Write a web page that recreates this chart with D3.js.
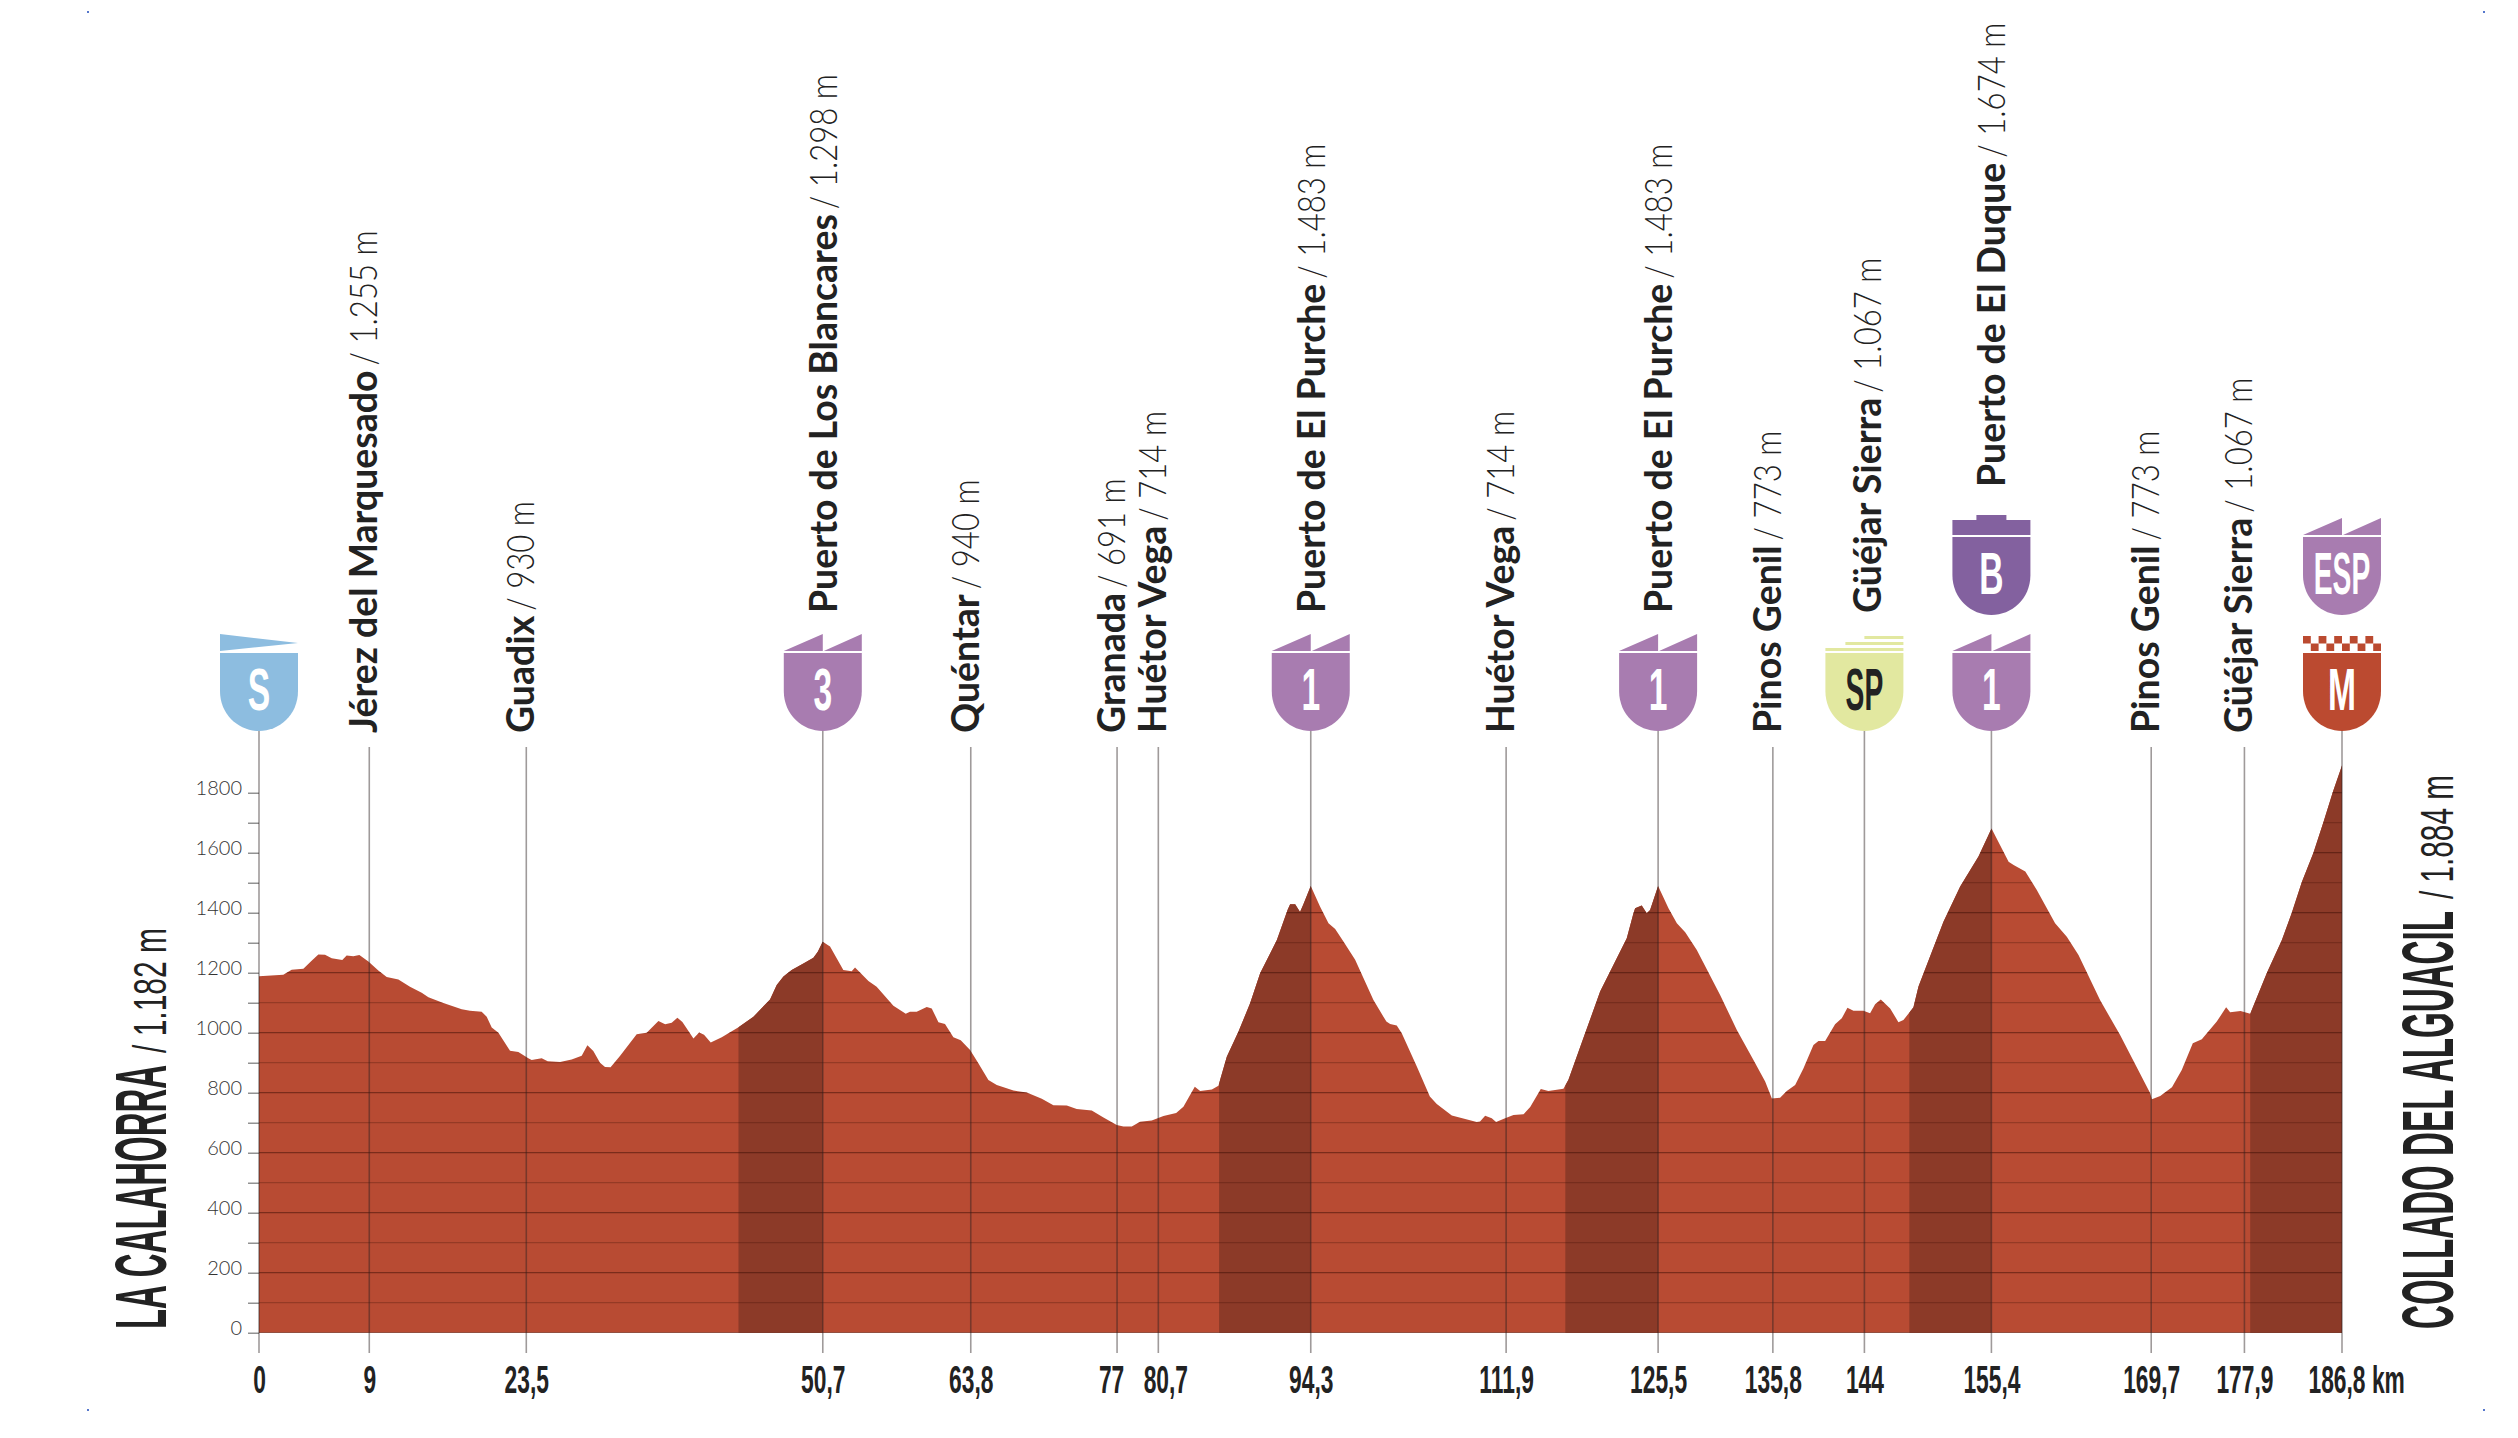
<!DOCTYPE html>
<html>
<head>
<meta charset="utf-8">
<script src="https://cdn.jsdelivr.net/npm/d3@7/dist/d3.min.js"></script>
<style>
  body { margin: 0; background: #fff; }
  svg { display: block; }
  .narrow { font-family: "Liberation Sans Narrow", "Liberation Sans", sans-serif; font-weight: 700; }
  .place { font-family: Lato, sans-serif; font-size: 38px; fill: #222; }
</style>
</head>
<body>
<svg id="profile" width="2518" height="1438"></svg>
<script>
// profile: km along the stage and altitude in metres
const profileKm = [0, 2.18, 2.93, 3.98, 4.72, 5.32, 5.92, 6.52, 7.47, 7.86, 8.46, 9, 9.81, 10.7, 11.45, 12.5, 13.54, 14.59, 15.19, 16.53, 18.18, 18.92, 19.97, 20.42, 20.87, 21.47, 22.51, 23.26, 24.15, 24.45, 25.35, 25.89, 27, 28.04, 28.94, 29.45, 29.98, 30.58, 31.03, 31.53, 32.37, 33.87, 34.77, 35.82, 36.42, 37.01, 37.52, 37.97, 38.96, 39.47, 39.91, 40.51, 41.5, 43, 44.34, 45.83,
  46.43, 47.03, 47.77, 48.82, 49.72, 50.11, 50.55, 51.21, 52.4, 53.15, 53.45, 53.9, 54.65, 55.39, 56.89, 58, 58.38, 58.98, 59.88, 60.33, 60.93, 61.52, 62.27, 62.93, 63.77, 64.51, 65.41, 66.16, 67.66, 68.85, 70.2, 71.24, 72.44, 73.33, 74.68, 75.73, 76.92, 77.52, 78.27, 79.01, 80.06, 81.11, 82.25, 82.9, 83.92, 84.4,
  85.45, 86.04, 86.79, 87.84, 88.88, 89.78, 91.28, 92.24, 92.47, 92.92, 93.36, 93.66, 94.32, 95.16, 95.91, 96.51, 97.25, 98.3, 99.94, 101.1, 101.44, 102.03, 102.48, 103.83, 105, 105.62, 106.97, 109.2, 109.5, 109.96, 110.55, 110.94, 111.75, 112.5, 113.4, 114, 114.95, 115.63, 116.98, 117.43, 118.77, 120.27, 121.46, 122.66, 123.26, 123.41, 124, 124.45, 124.75, 125.47, 126.4, 127.15, 127.9, 128.94, 131.03,
  132.53, 134.02, 135.07, 135.67, 136.41, 137.01, 137.76, 138.5, 139.4, 139.85, 140.45, 141.34, 141.94, 142.45, 142.99, 143.88, 144.48, 144.93, 145.44, 146.28, 147.02, 147.47, 148.37, 148.82, 150.02, 151.06, 152.56, 154.2, 155.37, 156.9, 157.35, 158.4, 159.43, 161.07, 162.12, 163.17, 165.1, 166.9, 169.6, 169.75, 170.5, 171.55, 172.43, 173.42, 174.23, 175.57, 176.41, 176.77, 177.7,
  178.57, 179, 180.06, 181.4, 182.3, 183.2, 184.24, 185.14, 185.98, 186.8];
const profileElev = [1188, 1193, 1210, 1213, 1240, 1261, 1260, 1248, 1242, 1257, 1255, 1259, 1237, 1207, 1186, 1177, 1153, 1133, 1118, 1099, 1078, 1073, 1070, 1053, 1017, 1000, 940, 936, 915, 909, 915, 905, 902, 911, 923, 958, 939, 900, 886, 885, 922, 995, 1000, 1039, 1028, 1033, 1050, 1036, 981, 1001, 993, 967, 985, 1018, 1053, 1111,
  1159, 1187, 1209, 1231, 1250, 1270, 1303, 1287, 1209, 1205, 1217, 1201, 1172, 1153, 1090, 1063, 1070, 1070, 1086, 1081, 1035, 1029, 985, 975, 942, 898, 842, 826, 807, 801, 780, 758, 757, 746, 741, 717, 692, 687, 687, 703, 707, 722, 732, 753, 820, 806,
  811, 823, 920, 1004, 1098, 1198, 1309, 1409, 1428, 1428, 1402, 1428, 1489, 1420, 1365, 1346, 1304, 1243, 1109, 1037, 1029, 1024, 998, 887, 787, 762, 724, 702, 704, 723, 715, 702, 715, 726, 728, 752, 812, 806, 813, 843, 982, 1137, 1226, 1315, 1398, 1415, 1424, 1398, 1409, 1489, 1415, 1365, 1335, 1276, 1126,
  1009, 909, 837, 781, 783, 806, 826, 881, 959, 972, 972, 1028, 1048, 1083, 1073, 1073, 1065, 1095, 1111, 1081, 1035, 1042, 1085, 1154, 1270, 1370, 1487, 1587, 1681, 1570, 1559, 1537, 1476, 1365, 1320, 1259, 1109, 992, 798, 778, 789, 818, 876, 965, 978, 1037, 1085, 1068, 1072,
  1063, 1102, 1199, 1308, 1400, 1502, 1600, 1702, 1802, 1891];

// categorised climbs, shaded darker
const climbStart = [43, 86.1, 117.15, 148, 178.57];
const climbEnd = [50.55, 94.32, 125.47, 155.36, 186.8];

// the marks on the route
const markKm = [0, 9.89, 23.97, 50.56, 63.83, 76.95, 80.65, 94.32, 111.84, 125.47, 135.76, 143.97, 155.36, 169.69, 178.05, 186.8];
const kmLabels = ["0", "9", "23,5", "50,7", "63,8", "77", "80,7", "94,3", "111,9", "125,5", "135,8", "144", "155,4", "169,7", "177,9", "186,8 km"];
const placeNames = ["", "Jérez del Marquesado", "Guadix", "Puerto de Los Blancares", "Quéntar", "Granada", "Huétor Vega", "Puerto de El Purche", "Huétor Vega", "Puerto de El Purche", "Pinos Genil", "Güéjar Sierra", "Puerto de El Duque", "Pinos Genil", "Güéjar Sierra", ""];
const placeHeights = ["", "1.255 m", "930 m", "1.298 m", "940 m", "691 m", "714 m", "1.483 m", "714 m", "1.483 m", "773 m", "1.067 m", "1.674 m", "773 m", "1.067 m", ""];

// shields: km, letter, kind, and level (0 next to the profile, 1 stacked above)
const shieldKm = [0, 50.56, 94.32, 125.47, 143.97, 155.36, 155.36, 186.8, 186.8];
const shieldText = ["S", "3", "1", "1", "SP", "1", "B", "M", "ESP"];
const shieldKind = ["start", "climb", "climb", "climb", "sprint", "climb", "bonus", "finish", "climb"];
const shieldLevel = [0, 0, 0, 0, 0, 0, 1, 0, 1];

const yTicks = d3.range(0, 1801, 100);

const kindColor = { start: "#8dbde0", climb: "#a87cb0", sprint: "#e2e8a0", bonus: "#83619f", finish: "#bb4a30" };

const svg = d3.select("#profile");
const x = d3.scaleLinear().domain([0, 186.8]).range([259, 2342]);
const y = d3.scaleLinear().domain([0, 1800]).range([1332.7, 792.7]);

const points = profileKm.map((km, i) => [km, profileElev[i]]);
const area = d3.area().x(d => x(d[0])).y0(y(0)).y1(d => y(d[1]));

svg.append("clipPath").attr("id", "under-profile")
  .append("path").attr("d", area(points));

svg.append("path").attr("d", area(points)).attr("fill", "#b84b33");

const inside = svg.append("g").attr("clip-path", "url(#under-profile)");

inside.selectAll("rect")
  .data(climbStart)
  .join("rect")
  .attr("x", d => x(d))
  .attr("y", y(2000))
  .attr("width", (d, i) => x(climbEnd[i]) - x(d))
  .attr("height", y(0) - y(2000))
  .attr("fill", "#8c3a28");

inside.selectAll("line")
  .data(yTicks)
  .join("line")
  .attr("x1", x(0))
  .attr("x2", x(186.8))
  .attr("y1", d => y(d))
  .attr("y2", d => y(d))
  .attr("stroke", "#3c0d04")
  .attr("stroke-opacity", d => d % 200 === 0 ? 0.5 : 0.28)
  .attr("stroke-width", 1.2);

// y axis, ticks every 100 m and a label every 200 m
const yAxis = svg.append("g")
  .attr("transform", `translate(${x(0)},0)`)
  .call(d3.axisLeft(y).tickValues(yTicks).tickSize(11).tickPadding(6)
    .tickFormat(d => d % 200 === 0 ? d : ""));
yAxis.select(".domain").remove();
yAxis.selectAll("line").attr("stroke", "#777").attr("stroke-width", 1.2);
yAxis.selectAll("text")
  .attr("font-family", "Lato, sans-serif")
  .attr("font-weight", 300)
  .attr("font-size", 20)
  .attr("dy", "0.1em")
  .attr("fill", "#333");

// vertical lines from the labels down past the base
const hasShield = km => shieldKm.includes(km);
svg.append("g").selectAll("line")
  .data(markKm)
  .join("line")
  .attr("x1", d => x(d))
  .attr("x2", d => x(d))
  .attr("y1", d => hasShield(d) ? 731 : 747)
  .attr("y2", 1353)
  .attr("stroke", "#2a2020")
  .attr("stroke-opacity", 0.45)
  .attr("stroke-width", 1.6);

// km labels
const labelNudge = { "77": -6, "80,7": 7 };
const kmAxis = svg.append("g")
  .attr("transform", `translate(0,${y(0)})`)
  .call(d3.axisBottom(x).tickValues(markKm).tickSize(0).tickPadding(0)
    .tickFormat((d, i) => kmLabels[i]));
kmAxis.select(".domain").remove();
kmAxis.selectAll("text")
  .attr("class", "narrow")
  .attr("font-size", 38)
  .attr("fill", "#222")
  .attr("dy", 0)
  .attr("y", 60)
  .attr("text-anchor", (d, i) => i === markKm.length - 1 ? "start" : "middle")
  .attr("transform", (d, i) => {
    const shift = i === markKm.length - 1 ? -34 : (labelNudge[kmLabels[i]] || 0);
    return `translate(${shift},0) scale(0.6,1)`;
  });

// place names, written upwards: bold name, then the lighter altitude squeezed in after it
const nameBottom = i => i === 12 ? 487 : hasShield(markKm[i]) ? 613 : 733;
const nameShift = i => i === 11 ? 17 : i === 12 ? 14 : hasShield(markKm[i]) ? 14 : 8;
const places = svg.append("g").selectAll("g")
  .data(markKm)
  .join("g")
  .attr("transform", (d, i) => `translate(${x(d) + nameShift(i)},${nameBottom(i)}) rotate(-90)`);
places.append("text")
  .attr("class", "place")
  .attr("font-weight", 700)
  .attr("transform", "scale(0.985,1)")
  .text((d, i) => placeNames[i]);
places.append("text")
  .attr("class", "place")
  .attr("font-weight", 300)
  .attr("transform", function () {
    const nameWidth = this.parentNode.firstChild.getComputedTextLength() * 0.985;
    return `translate(${nameWidth + 5},0) scale(0.82,1)`;
  })
  .text((d, i) => placeHeights[i] ? "/ " + placeHeights[i] : "");

// start and finish names at both ends
const endNames = ["LA CALAHORRA", "COLLADO DEL ALGUACIL"];
const endHeights = ["1.182 m", "1.884 m"];
const endBase = [166, 2453];
const endLength = [264, 418];
const endHeightLength = [125, 124];
endNames.forEach((name, i) => {
  const g = svg.append("g").attr("transform", `translate(${endBase[i]},1329) rotate(-90)`);
  g.append("text").attr("class", "narrow")
    .attr("font-size", 72).attr("fill", "#222")
    .attr("textLength", endLength[i]).attr("lengthAdjust", "spacingAndGlyphs")
    .text(name);
  g.append("text")
    .attr("x", endLength[i] + 12)
    .attr("font-family", "'Liberation Sans Narrow', sans-serif")
    .attr("font-size", 46).attr("fill", "#222")
    .attr("textLength", endHeightLength[i]).attr("lengthAdjust", "spacingAndGlyphs")
    .text("/ " + endHeights[i]);
});

// shields
const shieldPath = "M-39,0H39V38C39,62 20,78 0,78C-20,78 -39,62 -39,38Z";
const flagPath = {
  start: "M-39,-19L39,-10L-39,-2Z",
  climb: "M-39,-2L0,-19V-2ZM1,-2L39,-19V-2Z",
  bonus: "M-39,-17H-15V-22H15V-17H39V-2H-39Z",
  sprint: "M-39,-5H39V-2H-39ZM-19,-11H39V-8H-19ZM0,-17H39V-14H0Z",
  finish: ""
};
const shields = svg.append("g").selectAll("g")
  .data(shieldKm)
  .join("g")
  .attr("transform", (d, i) => `translate(${x(d)},${shieldLevel[i] ? 537 : 653})`);
shields.append("path").attr("d", shieldPath).attr("fill", (d, i) => kindColor[shieldKind[i]]);
shields.append("path").attr("d", (d, i) => flagPath[shieldKind[i]]).attr("fill", (d, i) => kindColor[shieldKind[i]]);
shields.append("text")
  .attr("class", "narrow")
  .attr("text-anchor", "middle")
  .attr("font-size", 60)
  .attr("fill", (d, i) => shieldKind[i] === "sprint" ? "#222" : "#fff")
  .attr("transform", (d, i) => `translate(0,57) scale(${shieldText[i].length > 1 ? 0.47 : 0.56},1)`)
  .text((d, i) => shieldText[i]);

// checkered flag on the finish shield
const checkers = d3.cross(d3.range(10), d3.range(2)).filter(d => (d[0] + d[1]) % 2 === 0);
svg.append("g")
  .attr("transform", `translate(${x(186.8) - 39},636)`)
  .selectAll("rect")
  .data(checkers)
  .join("rect")
  .attr("x", d => d[0] * 7.8)
  .attr("y", d => d[1] * 7.5)
  .attr("width", 7.8)
  .attr("height", 7.5)
  .attr("fill", kindColor.finish);

// printer's corner marks
const cornerX = [87, 2483, 87, 2483];
const cornerY = [11, 11, 1409, 1409];
svg.append("g").selectAll("rect")
  .data(cornerX)
  .join("rect")
  .attr("x", d => d)
  .attr("y", (d, i) => cornerY[i])
  .attr("width", 2)
  .attr("height", 2)
  .attr("fill", "#5577cc");
</script>
</body>
</html>
